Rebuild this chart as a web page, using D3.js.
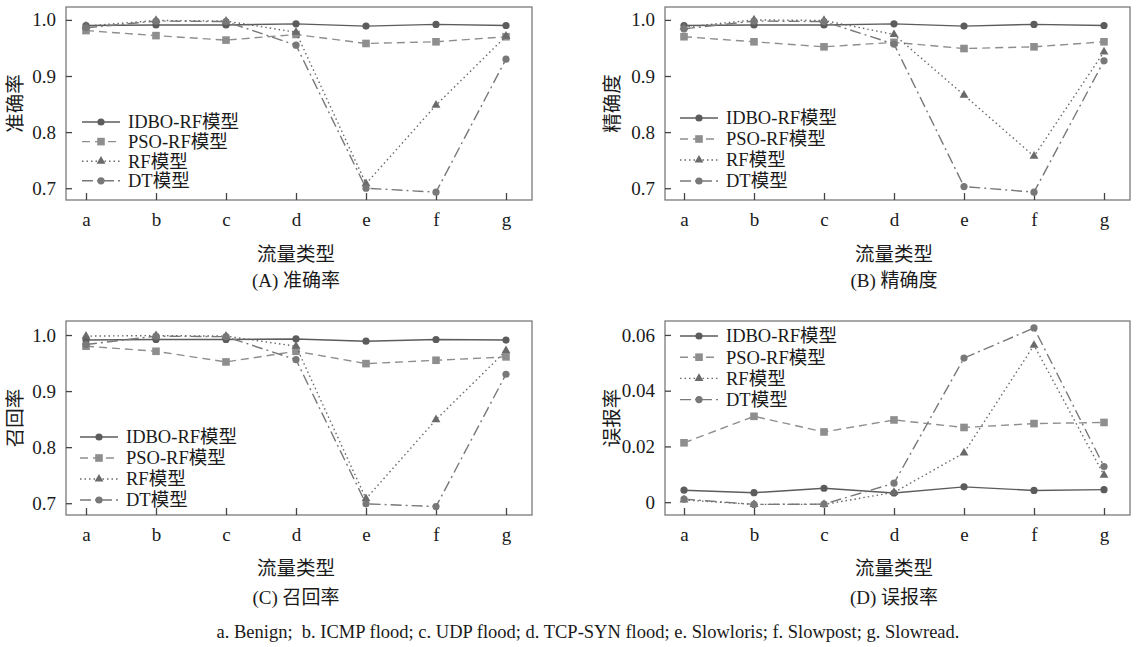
<!DOCTYPE html>
<html>
<head>
<meta charset="utf-8">
<script src="https://cdn.jsdelivr.net/npm/d3@7"></script>
<style>
  body { margin: 0; background: #fff; }
  svg text { font-family: "Liberation Serif", "Noto Sans CJK SC", serif; fill: #1a1a1a; }
</style>
</head>
<body>
<div id="chart"></div>
<script>
const categories = ["a", "b", "c", "d", "e", "f", "g"];
const seriesNames = ["IDBO-RF模型", "PSO-RF模型", "RF模型", "DT模型"];

// (A) 准确率
const accIDBO = [0.990, 0.991, 0.991, 0.993, 0.989, 0.992, 0.990];
const accPSO  = [0.981, 0.972, 0.964, 0.974, 0.958, 0.961, 0.970];
const accRF   = [0.989, 0.999, 0.998, 0.978, 0.708, 0.848, 0.971];
const accDT   = [0.986, 0.998, 0.997, 0.955, 0.700, 0.693, 0.930];

// (B) 精确度
const preIDBO = [0.990, 0.991, 0.991, 0.993, 0.989, 0.992, 0.990];
const prePSO  = [0.970, 0.961, 0.952, 0.960, 0.949, 0.952, 0.961];
const preRF   = [0.987, 1.000, 0.999, 0.974, 0.866, 0.757, 0.943];
const preDT   = [0.984, 0.998, 0.997, 0.957, 0.703, 0.693, 0.927];

// (C) 召回率
const recIDBO = [0.991, 0.992, 0.992, 0.993, 0.989, 0.992, 0.991];
const recPSO  = [0.980, 0.971, 0.952, 0.971, 0.949, 0.955, 0.961];
const recRF   = [0.998, 0.999, 0.998, 0.980, 0.708, 0.849, 0.972];
const recDT   = [0.983, 0.998, 0.997, 0.956, 0.699, 0.694, 0.930];

// (D) 误报率
const farIDBO = [0.0043, 0.0034, 0.0050, 0.0033, 0.0055, 0.0042, 0.0045];
const farPSO  = [0.0213, 0.0308, 0.0252, 0.0295, 0.0268, 0.0282, 0.0286];
const farRF   = [0.0008, -0.0008, -0.0008, 0.0035, 0.0177, 0.0563, 0.0097];
const farDT   = [0.0011, -0.0008, -0.0007, 0.0068, 0.0517, 0.0625, 0.0128];

const rateTicks = [0.7, 0.8, 0.9, 1.0];
const farTicks = [0, 0.02, 0.04, 0.06];
const footnote = "a. Benign;  b. ICMP flood; c. UDP flood; d. TCP-SYN flood; e. Slowloris; f. Slowpost; g. Slowread.";

const width = 1138;
const height = 647;
const serif = "'Liberation Serif', 'Noto Sans CJK SC', serif";

const styles = [
  { color: "#5c5c5c", dash: null, marker: "circle" },
  { color: "#8e8e8e", dash: "8,5", marker: "square" },
  { color: "#6a6a6a", dash: "1.5,3", marker: "triangle" },
  { color: "#787878", dash: "11,4,2,4", marker: "circle" },
];

const panels = [
  { title: "(A) 准确率", ylabel: "准确率", series: [accIDBO, accPSO, accRF, accDT],
    ticks: rateTicks, fmt: (d) => d.toFixed(1), domain: [0.679, 1.023],
    box: { l: 66, r: 532, t: 7, b: 200 }, xr: [86, 506], ylx: 15,
    legend: { x: 82, y: 122, gap: 19.6 }, xtY: 254, subY: 280 },
  { title: "(B) 精确度", ylabel: "精确度", series: [preIDBO, prePSO, preRF, preDT],
    ticks: rateTicks, fmt: (d) => d.toFixed(1), domain: [0.679, 1.023],
    box: { l: 665, r: 1130, t: 7, b: 200 }, xr: [684, 1104], ylx: 612,
    legend: { x: 680, y: 118, gap: 21 }, xtY: 254, subY: 280 },
  { title: "(C) 召回率", ylabel: "召回率", series: [recIDBO, recPSO, recRF, recDT],
    ticks: rateTicks, fmt: (d) => d.toFixed(1), domain: [0.679, 1.025],
    box: { l: 66, r: 532, t: 321, b: 515 }, xr: [86, 506], ylx: 15,
    legend: { x: 80, y: 437, gap: 21 }, xtY: 568, subY: 597 },
  { title: "(D) 误报率", ylabel: "误报率", series: [farIDBO, farPSO, farRF, farDT],
    ticks: farTicks, fmt: (d) => (d === 0 ? "0" : d.toFixed(2)), domain: [-0.0046, 0.065],
    box: { l: 665, r: 1130, t: 321, b: 515 }, xr: [684, 1104], ylx: 612,
    legend: { x: 680, y: 336, gap: 21.2 }, xtY: 568, subY: 597 },
];

const svg = d3.select("#chart").append("svg")
  .attr("width", width)
  .attr("height", height)
  .attr("font-family", serif);

function drawMarker(g, type, x, y, color) {
  if (type === "circle") {
    g.append("circle").attr("cx", x).attr("cy", y).attr("r", 3.6).attr("fill", color);
  } else if (type === "square") {
    g.append("rect").attr("x", x - 3.8).attr("y", y - 3.8).attr("width", 7.6).attr("height", 7.6).attr("fill", color);
  } else {
    const s = d3.symbol().type(d3.symbolTriangle).size(34);
    g.append("path").attr("d", s()).attr("transform", `translate(${x},${y})`).attr("fill", color);
  }
}

panels.forEach((p) => {
  const g = svg.append("g");
  const x = d3.scalePoint().domain(categories).range(p.xr);
  const y = d3.scaleLinear().domain(p.domain).range([p.box.b, p.box.t]);

  // frame
  g.append("rect")
    .attr("x", p.box.l).attr("y", p.box.t)
    .attr("width", p.box.r - p.box.l).attr("height", p.box.b - p.box.t)
    .attr("fill", "none").attr("stroke", "#7a7a7a").attr("stroke-width", 1.3);

  const yAxis = d3.axisLeft(y).tickValues(p.ticks).tickFormat(p.fmt).tickSize(-6).tickPadding(10);
  g.append("g").attr("transform", `translate(${p.box.l},0)`).call(yAxis)
    .attr("font-family", serif).attr("font-size", 19)
    .call((a) => a.select(".domain").remove())
    .call((a) => a.selectAll("line").attr("stroke", "#444").attr("stroke-width", 1.3))
    .call((a) => a.selectAll("text").attr("fill", "#1a1a1a"));

  const xAxis = d3.axisBottom(x).tickSize(-7).tickPadding(13);
  g.append("g").attr("transform", `translate(0,${p.box.b})`).call(xAxis)
    .attr("font-family", serif).attr("font-size", 19)
    .call((a) => a.select(".domain").remove())
    .call((a) => a.selectAll("line").attr("stroke", "#444").attr("stroke-width", 1.3))
    .call((a) => a.selectAll("text").attr("fill", "#1a1a1a"));

  // axis titles
  const cx = (p.xr[0] + p.xr[1]) / 2;
  g.append("text").attr("x", cx).attr("y", p.xtY).attr("text-anchor", "middle")
    .attr("dy", "0.35em").attr("font-size", 19.5).text("流量类型");
  g.append("text").attr("x", cx).attr("y", p.subY).attr("text-anchor", "middle")
    .attr("dy", "0.35em").attr("font-size", 19).text(p.title);
  g.append("text")
    .attr("transform", `translate(${p.ylx},${(p.box.t + p.box.b) / 2}) rotate(-90)`)
    .attr("text-anchor", "middle").attr("dy", "0.35em")
    .attr("font-size", 19.5).text(p.ylabel);

  // series lines
  const line = d3.line().x((d, i) => x(categories[i])).y((d) => y(d));
  p.series.forEach((vals, si) => {
    const st = styles[si];
    g.append("path").datum(vals).attr("d", line)
      .attr("fill", "none").attr("stroke", st.color).attr("stroke-width", 1.4)
      .attr("stroke-dasharray", st.dash);
    const mg = g.append("g");
    vals.forEach((v, i) => drawMarker(mg, st.marker, x(categories[i]), y(v), st.color));
  });

  // legend
  seriesNames.forEach((name, si) => {
    const st = styles[si];
    const ly = p.legend.y + si * p.legend.gap;
    g.append("line").attr("x1", p.legend.x).attr("x2", p.legend.x + 38)
      .attr("y1", ly).attr("y2", ly)
      .attr("stroke", st.color).attr("stroke-width", 1.4).attr("stroke-dasharray", st.dash);
    drawMarker(g, st.marker, p.legend.x + 19, ly, st.color);
    g.append("text").attr("x", p.legend.x + 46).attr("y", ly)
      .attr("dy", "0.35em").attr("font-size", 18.5).text(name);
  });
});

svg.append("text").attr("x", 588).attr("y", 632).attr("text-anchor", "middle")
  .attr("dy", "0.35em").attr("font-size", 18.5)
  .attr("xml:space", "preserve").style("white-space", "pre").text(footnote);
</script>
</body>
</html>
